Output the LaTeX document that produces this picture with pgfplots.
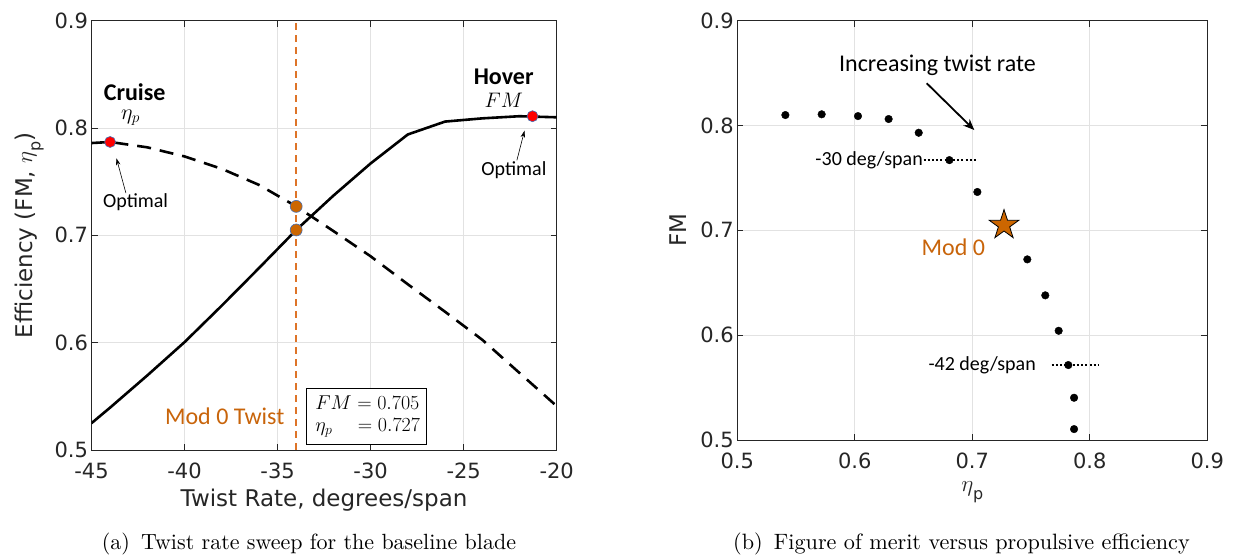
\RequirePackage{fix-cm}
\documentclass[border=0pt]{standalone}
\usepackage{fontspec}
\usepackage{graphicx}
\usepackage{pgfplots}
\pgfplotsset{compat=1.18}
\usetikzlibrary{arrows.meta}
\newfontfamily\dejavu{DejaVu Sans}
\newfontfamily\carlito{Carlito}
\definecolor{axgray}{RGB}{38,38,38}
\definecolor{gridgray}{RGB}{226,226,226}
\definecolor{modorange}{RGB}{222,116,40}
\definecolor{txtorange}{RGB}{200,100,10}
\definecolor{dotorange}{RGB}{204,102,0}
\definecolor{edgeblue}{RGB}{70,110,180}

\pgfdeclareplotmark{fstar}{%
  \pgfpathmoveto{\pgfpointpolar{90}{\pgfplotmarksize}}%
  \pgfpathlineto{\pgfpointpolar{126}{0.382\pgfplotmarksize}}%
  \pgfpathlineto{\pgfpointpolar{162}{\pgfplotmarksize}}%
  \pgfpathlineto{\pgfpointpolar{198}{0.382\pgfplotmarksize}}%
  \pgfpathlineto{\pgfpointpolar{234}{\pgfplotmarksize}}%
  \pgfpathlineto{\pgfpointpolar{270}{0.382\pgfplotmarksize}}%
  \pgfpathlineto{\pgfpointpolar{306}{\pgfplotmarksize}}%
  \pgfpathlineto{\pgfpointpolar{342}{0.382\pgfplotmarksize}}%
  \pgfpathlineto{\pgfpointpolar{18}{\pgfplotmarksize}}%
  \pgfpathlineto{\pgfpointpolar{54}{0.382\pgfplotmarksize}}%
  \pgfpathclose
  \pgfusepathqfillstroke
}

\newcommand{\labfont}{\dejavu\fontsize{23}{27}\selectfont\color{axgray}}

\pgfplotsset{mystyle/.style={
  scale only axis,
  axis line style={axgray,line width=0.8pt},
  grid=major,
  major grid style={gridgray,line width=0.8pt},
  tick style={axgray,line width=0.8pt},
  major tick length=6pt,
  tick align=inside,
  tick label style={font=\dejavu\fontsize{21}{25}\selectfont, text=axgray},
  x tick label style={anchor=base, yshift=-29pt},
}}

\begin{document}
\begin{tikzpicture}
\useasboundingbox (0,0) rectangle (1233pt,559pt);

% ---------------- left panel ----------------
\begin{axis}[mystyle,
  at={(91.5pt,109pt)}, anchor=south west,
  width=465.2pt, height=429.3pt,
  xmin=-45, xmax=-20, ymin=0.5, ymax=0.9,
  xtick={-45,-40,-35,-30,-25,-20},
  xticklabels={-45,-40,-35,-30,-25,-20},
  ytick={0.5,0.6,0.7,0.8,0.9},
  yticklabels={0.5,0.6,0.7,0.8,0.9},
  xlabel={Twist Rate, degrees/span},
  ylabel={Efficiency (FM, $\eta$\raisebox{-0.35em}{\fontsize{16}{16}\selectfont p})},
  every axis x label/.style={at={(axis description cs:0.5,-0.132)}, anchor=base, font=\labfont},
  every axis y label/.style={at={(axis description cs:-0.134,0.5)}, rotate=90, anchor=center, font=\labfont},
]
\addplot[modorange, line width=1.8pt, dash pattern=on 7pt off 5pt] coordinates {(-34,0.5) (-34,0.9)};
\addplot[black, line width=2.6pt] coordinates {
(-45,0.525) (-44,0.5395) (-42,0.5695) (-40,0.6005) (-38,0.6345) (-36,0.6695) (-34,0.705)
(-32,0.737) (-30,0.767) (-28,0.794) (-26,0.806) (-24,0.809) (-22,0.811) (-20,0.810)};
\addplot[black, line width=2.6pt, dash pattern=on 14pt off 9pt] coordinates {
(-45,0.786) (-44,0.787) (-42,0.782) (-40,0.7735) (-38,0.762) (-36,0.747) (-34,0.727)
(-32,0.704) (-30,0.6805) (-28,0.6544) (-26,0.6288) (-24,0.6027) (-22,0.5718) (-20,0.5409)};
\addplot[only marks, mark=*, mark size=6pt, mark options={fill=dotorange, draw=edgeblue, line width=0.6pt}]
  coordinates {(-34,0.705) (-34,0.727)};
\addplot[only marks, mark=*, mark size=5.5pt, mark options={fill=red, draw=edgeblue, line width=0.6pt}]
  coordinates {(-44,0.787) (-21.3,0.811)};

\node[font=\carlito\bfseries\fontsize{24}{28}\selectfont, anchor=base, inner sep=0pt, text depth=0pt] at (axis cs:-42.68,0.8256) {Cruise};
\node[font=\fontsize{22}{26}\selectfont, inner sep=0pt] at (axis cs:-42.9,0.8095) {$\eta_p$};
\node[font=\carlito\bfseries\fontsize{24}{28}\selectfont, anchor=base, inner sep=0pt, text depth=0pt] at (axis cs:-22.85,0.8407) {Hover};
\node[font=\fontsize{21}{25}\selectfont, inner sep=0pt] at (axis cs:-22.84,0.8261) {$FM$};
\node[font=\carlito\fontsize{20}{24}\selectfont] at (axis cs:-42.63,0.7313) {Optimal};
\draw[-{Stealth[length=7pt,width=4.5pt]}, line width=0.6pt] (axis cs:-43.15,0.7393) -- (axis cs:-43.66,0.7718);
\node[font=\carlito\fontsize{20}{24}\selectfont] at (axis cs:-22.30,0.7609) {Optimal};
\draw[-{Stealth[length=7pt,width=4.5pt]}, line width=0.6pt] (axis cs:-22.14,0.7699) -- (axis cs:-21.73,0.7975);
\node[font=\carlito\fontsize{24}{28}\selectfont, text=txtorange, anchor=base] at (axis cs:-37.84,0.5233) {Mod 0 Twist};
\draw[black, line width=0.8pt, fill=white] (axis cs:-33.43,0.5574) rectangle (axis cs:-26.98,0.5055);
\node[anchor=west, inner sep=0pt, font=\fontsize{20}{21.7}\selectfont] at (axis cs:-32.98,0.5314)
  {\begin{tabular}{@{}l@{}}$FM = 0.705$\\ $\eta_p\;\;\;\, = 0.727$\end{tabular}};
\end{axis}

% ---------------- right panel ----------------
\begin{axis}[mystyle,
  at={(737.3pt,119pt)}, anchor=south west,
  width=470pt, height=419.3pt,
  xmin=0.5, xmax=0.9, ymin=0.5, ymax=0.9,
  xtick={0.5,0.6,0.7,0.8,0.9},
  xticklabels={0.5,0.6,0.7,0.8,0.9},
  ytick={0.5,0.6,0.7,0.8,0.9},
  yticklabels={0.5,0.6,0.7,0.8,0.9},
  xlabel={$\eta$\raisebox{-0.35em}{\fontsize{16}{16}\selectfont p}},
  ylabel={FM},
  every axis x label/.style={at={(axis description cs:0.5,-0.124)}, anchor=center, font=\labfont},
  every axis y label/.style={at={(axis description cs:-0.126,0.5)}, rotate=90, anchor=center, font=\labfont},
]
\addplot[black, line width=2pt, dash pattern=on 2pt off 2.2pt] coordinates {(0.6585,0.767) (0.7031,0.767)};
\addplot[black, line width=2pt, dash pattern=on 2pt off 2.2pt] coordinates {(0.7676,0.5715) (0.808,0.5715)};
\addplot[only marks, mark=*, mark size=3.8pt, black] coordinates {
(0.5409,0.810) (0.5718,0.8107) (0.6027,0.809) (0.6288,0.8062) (0.6544,0.7931)
(0.6805,0.767) (0.7043,0.7366) (0.7468,0.6723) (0.7621,0.638) (0.7735,0.6042)
(0.7817,0.5715) (0.7866,0.5403) (0.7866,0.5104)};
\addplot[only marks, mark=fstar, mark size=15.5pt, mark options={fill=dotorange, draw=black, line width=0.8pt}]
  coordinates {(0.727,0.705)};

\node[font=\carlito\fontsize{24}{28}\selectfont, anchor=base] at (axis cs:0.6704,0.8513) {Increasing twist rate};
\draw[-{Stealth[length=11pt,width=9pt]}, line width=1.8pt] (axis cs:0.6612,0.8403) -- (axis cs:0.7017,0.7957);
\node[font=\carlito\fontsize{20}{24}\selectfont, anchor=east, inner sep=0pt] at (axis cs:0.658,0.767) {-30 deg/span};
\node[font=\carlito\fontsize{20}{24}\selectfont, anchor=east, inner sep=0pt] at (axis cs:0.7542,0.5715) {-42 deg/span};
\node[font=\carlito\fontsize{24}{28}\selectfont, text=txtorange, anchor=base] at (axis cs:0.6838,0.6764) {Mod 0};
\end{axis}

% ---------------- captions ----------------
\node[anchor=base] at (309pt,10pt) {\scalebox{2.2}{\fontsize{10}{12}\selectfont (a)\hspace{0.5em}Twist rate sweep for the baseline blade}};
\node[anchor=base] at (961.5pt,10pt) {\scalebox{2.22}{\fontsize{10}{12}\selectfont (b)\hspace{0.5em}Figure of merit versus propulsive efficiency}};
\end{tikzpicture}
\end{document}
